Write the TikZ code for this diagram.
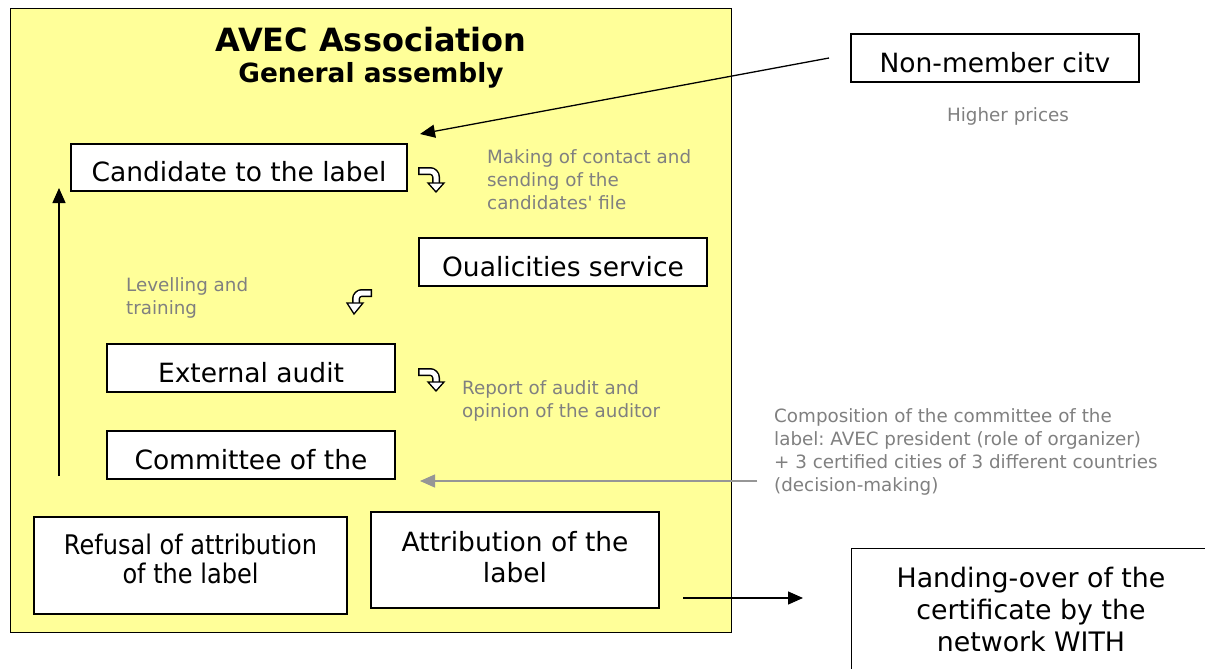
\documentclass[tikz,border=0pt]{standalone}
\usepackage{fontspec}
\setmainfont{DejaVu Sans}
\newfontfamily\condfont[FakeStretch=0.89]{DejaVu Sans}
\usetikzlibrary{arrows.meta}
\definecolor{bgyellow}{RGB}{255,255,153}
\definecolor{labelgray}{RGB}{128,128,128}
\definecolor{arrowgray}{RGB}{150,150,150}
\frenchspacing
\begin{document}
\begin{tikzpicture}[x=1pt,y=-1pt,
  box/.style={draw=black, line width=1.3pt, fill=white, inner sep=0pt, align=center,
    text height=28.4pt, text depth=0pt, font=\fontsize{26.5}{31}\selectfont},
  boxtext/.style={inner sep=0pt, align=center, font=\fontsize{26.5}{31}\selectfont},
  note/.style={text=labelgray, font=\fontsize{18.3}{23}\selectfont, align=left, inner sep=0pt, anchor=north west},
  arr/.style={line width=1.3pt, -{Triangle[length=15pt,width=13pt]}},
  bandout/.style={line width=8pt, black, rounded corners=6pt},
  bandin/.style={line width=5pt, white, rounded corners=6pt},
  bhead/.style={fill=white, draw=black, line width=1.3pt, line join=miter}]
\useasboundingbox (0,0) rectangle (1205,669);
\fill[white] (0,0) rectangle (1205,669);
% association frame
\node[draw=black, line width=1.3pt, fill=bgyellow, minimum width=721pt, minimum height=624pt,
  anchor=north west, inner sep=0pt] (assoc) at (10,8) {};
\node[font=\bfseries\fontsize{32}{38}\selectfont, inner sep=0pt] (title) at (371,40) {AVEC Association};
\node[font=\bfseries\fontsize{26.4}{30}\selectfont, inner sep=0pt] (sub) at (371,75) {General assembly};
% boxes
\node[box, minimum width=336pt, minimum height=47pt] (cand) at (239,167.5) {Candidate to the label};
\node[box, minimum width=288pt, minimum height=48pt] (qual) at (563,262) {Oualicities service};
\node[box, minimum width=288pt, minimum height=48pt] (audit) at (251,368) {External audit};
\node[box, minimum width=288pt, minimum height=48pt] (comm) at (251,455) {Committee of the};
\node[box, minimum width=288pt, minimum height=48pt] (nonm) at (995,58) {Non-member citv};
\node[box, minimum width=313pt, minimum height=97pt] (refus) at (190.5,565.5) {};
\node[boxtext, font=\condfont\fontsize{27}{28.5}\selectfont] (refustxt) at (190.5,559) {Refusal of attribution\\of the label};
\node[box, minimum width=288pt, minimum height=96pt] (attr) at (515,560) {};
\node[boxtext] (attrtxt) at (515,557) {Attribution of the\\label};
\node[box, minimum width=360pt, minimum height=140pt, anchor=north west, text height=0pt] (hand) at (851,548) {};
\node[boxtext, font=\fontsize{26.8}{32}\selectfont] (handtxt) at (1031,610) {Handing-over of the\\certificate by the\\network WITH};
% notes
\node[note] (n1) at (487,149.4) {Making of contact and\\sending of the\\candidates\textquotesingle{} file};
\node[note] (n2) at (126,277) {Levelling and\\training};
\node[note] (n3) at (462,380) {Report of audit and\\opinion of the auditor};
\node[note] (n4) at (774,408) {Composition of the committee of the\\label: AVEC president (role of organizer)\\+ 3 certified cities of 3 different countries\\(decision-making)};
\node[note, anchor=center] (n5) at (1008,116.5) {Higher prices};
% connectors
\coordinate (nmout) at (829,58);
\coordinate (candin) at (420,134);
\draw[arr] (nmout) -- (candin);
\coordinate (upstart) at (59,476);
\coordinate (upend) at (59,188);
\draw[arr] (upstart) -- (upend);
\coordinate (grstart) at (757,481);
\coordinate (grend) at (420,481);
\draw[arr, draw=arrowgray, fill=arrowgray] (grstart) -- (grend);
\coordinate (hostart) at (683,598);
\coordinate (hoend) at (803,598);
\draw[arr] (hostart) -- (hoend);
% bent arrow icons
\draw[bandout] (418,171) -- (436,171) -- (436,184);
\draw[bandin] (419.5,171) -- (436,171) -- (436,184);
\draw[bhead] (428,183) -- (444,183) -- (436,192) -- cycle;
\draw[bandout] (372,293) -- (356,293) -- (356,304);
\draw[bandin] (370.5,293) -- (356,293) -- (356,304);
\draw[bhead] (347,303) -- (363,303) -- (354,314) -- cycle;
\draw[bandout] (418,372) -- (436,372) -- (436,383);
\draw[bandin] (419.5,372) -- (436,372) -- (436,383);
\draw[bhead] (428,382) -- (444,382) -- (436,391) -- cycle;
\end{tikzpicture}
\end{document}
